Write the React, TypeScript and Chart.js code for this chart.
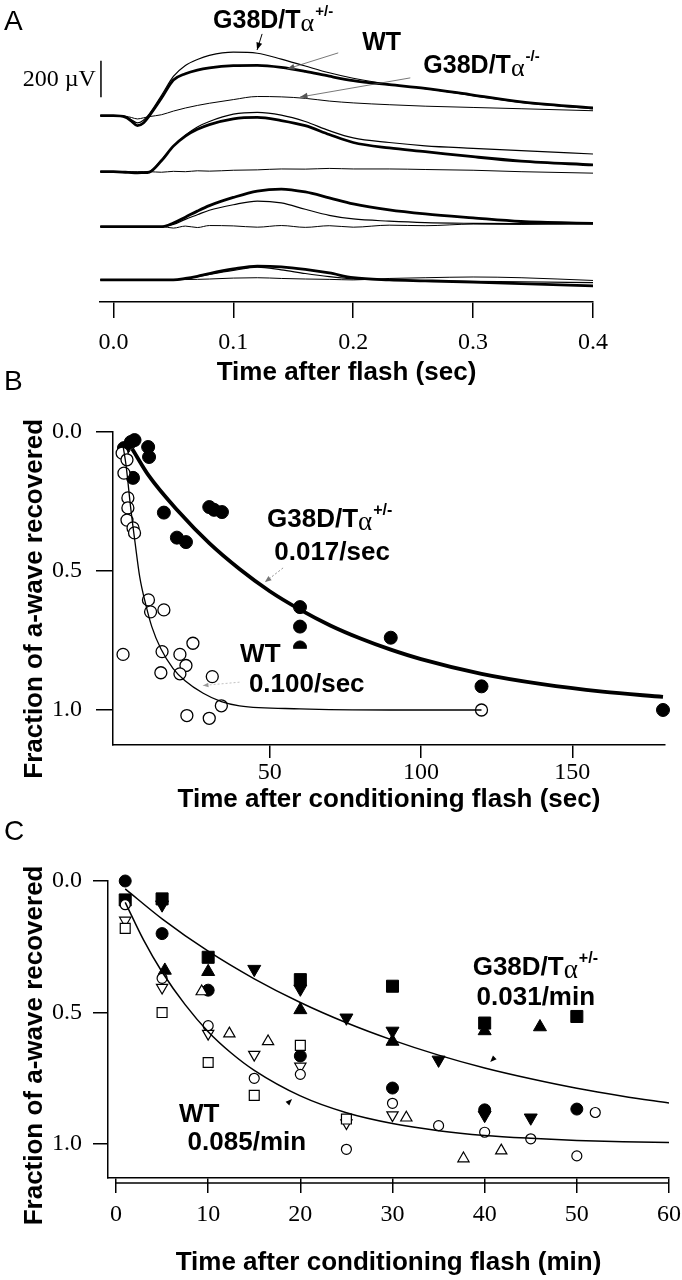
import React, { useEffect, useRef } from 'react';
import { Chart, registerables } from 'chart.js';

Chart.register(...registerables);

const SANS = '"Liberation Sans", Arial, Helvetica, sans-serif';
const SERIF = '"Liberation Serif", "Times New Roman", serif';
const INK = '#000';

// ---------------- Panel A : ERG traces (µV, relative to each trace's baseline) ----------------
const traceTimes = [-0.011, 0, 0.01, 0.015, 0.02, 0.025, 0.03, 0.04, 0.05, 0.06, 0.07, 0.08, 0.1, 0.12, 0.14, 0.16, 0.18, 0.2, 0.23, 0.26, 0.3, 0.34, 0.4];
const traceBaselines = [0, -307, -608, -900];
const wtTraces = [
  [0, 0, -8, -30, -55, -40, 0, 95, 195, 230, 250, 262, 274, 276, 265, 243, 216, 192, 170, 150, 113, 76, 42],
  [0, 0, -3, -5, -6, -5, -2, 60, 140, 195, 232, 258, 290, 298, 280, 252, 204, 160, 130, 110, 82, 58, 37],
  [0, 0, 0, 0, 0, 0, 0, 0, 20, 52, 85, 115, 160, 195, 206, 190, 158, 125, 92, 70, 48, 28, 18],
  [0, 0, 0, 0, 0, 0, 0, 0, 0, 8, 20, 35, 60, 76, 72, 58, 38, 12, 0, -5, -12, -20, -33],
];
const hetTraces = [
  [0, 0, -5, -22, -40, -25, 10, 110, 215, 275, 308, 330, 348, 342, 310, 272, 235, 205, 172, 148, 110, 72, 38],
  [0, 0, -2, -4, -5, -4, 0, 65, 140, 200, 245, 275, 315, 325, 310, 275, 225, 185, 160, 142, 128, 115, 97],
  [0, 0, 0, 0, 0, 0, 0, 0, 12, 40, 65, 90, 120, 140, 130, 95, 62, 42, 30, 22, 18, 16, 15],
  [0, 0, 0, 0, 0, 0, 0, 0, 0, 6, 18, 30, 52, 70, 55, 35, 18, 5, 0, -4, -8, -10, -15],
];
const koTraces = [
  [0, 0, -3, -10, -18, -12, -5, 5, 25, 42, 56, 68, 88, 105, 103, 95, 80, 70, 60, 52, 45, 38, 27],
  [0, 0, 0, 0, 0, 0, 0, -3, 2, 0, 5, 3, 8, 10, 15, 14, 18, 15, 15, 12, 8, 0, -8],
  [0, 0, 0, 0, 0, 0, 0, 0, -8, 3, -5, 6, 4, -3, 6, -4, 5, -3, 8, 5, 14, 12, 18],
  [0, 0, 0, 0, 0, 0, 0, 0, 0, 2, 3, 5, 10, 12, 8, 5, 3, 0, 8, 12, 16, 12, -3],
];
const aXTicks = [0, 0.1, 0.2, 0.3, 0.4];
const scaleBarMicroV = 200;
const scaleBarStart = 101;
const scaleBarTime = -0.0104;

// ---------------- Panel B : recovery (sec) ----------------
const bHetPoints: [number, number][] = [
  [1.8, 0.058], [4.1, 0.036], [5.3, 0.029], [9.8, 0.054], [10.1, 0.09], [4.8, 0.165],
  [15, 0.29], [30, 0.27], [31.6, 0.28], [34.2, 0.288], [19.3, 0.38], [22.3, 0.396],
  [60, 0.63], [60, 0.7], [60, 0.775], [90, 0.74], [120, 0.915], [180, 1.0],
];
const bWtPoints: [number, number][] = [
  [1.2, 0.076], [2.8, 0.1], [1.8, 0.148], [3.1, 0.237], [3.1, 0.273], [2.8, 0.317], [4.8, 0.345], [5.3, 0.363],
  [9.9, 0.604], [10.6, 0.647], [15, 0.64], [1.5, 0.8], [14.4, 0.79], [14, 0.866], [20.3, 0.8], [22.3, 0.84],
  [24.6, 0.76], [20.3, 0.87], [31, 0.88], [22.6, 1.02], [30, 1.03], [34, 0.985], [120, 1.0],
];
const bHetFit: [number, number][] = [
  [4.5, 0.06], [10, 0.157], [20, 0.288], [30, 0.4], [40, 0.493], [50, 0.573], [60, 0.639], [70, 0.696],
  [80, 0.743], [90, 0.783], [100, 0.817], [120, 0.87], [140, 0.907], [160, 0.934], [180, 0.953],
];
const bWtFit: [number, number][] = [
  [1.5, 0.05], [2.5, 0.12], [4, 0.27], [5.5, 0.4], [7, 0.52], [9, 0.62], [11, 0.7], [14, 0.78], [18, 0.85],
  [22, 0.895], [28, 0.94], [34, 0.97], [40, 0.985], [60, 0.996], [90, 1.0], [120, 1.0],
];
const bXTicks = [50, 100, 150];
const bYTicks = [0, 0.5, 1.0];

// ---------------- Panel C : recovery (min) ----------------
const cHetCircles: [number, number][] = [[1, 0.0], [5, 0.2], [10, 0.415], [20, 0.665], [30, 0.787], [40, 0.87], [50, 0.867]];
const cHetSquares: [number, number][] = [[1, 0.072], [5, 0.068], [10, 0.29], [20, 0.375], [30, 0.4], [40, 0.54], [50, 0.515]];
const cHetUp: [number, number][] = [[5.3, 0.34], [10, 0.345], [20, 0.49], [30, 0.61], [40, 0.57], [46, 0.555]];
const cHetDown: [number, number][] = [[5, 0.09], [15, 0.335], [20, 0.41], [25, 0.52], [30, 0.57], [35, 0.68], [40, 0.89], [45, 0.9]];
const cWtCircles: [number, number][] = [[1, 0.09], [5, 0.37], [10, 0.55], [15, 0.75], [20, 0.735], [25, 1.02], [30, 0.845], [35, 0.93], [40, 0.955], [45, 0.98], [50, 1.045], [52, 0.88]];
const cWtSquares: [number, number][] = [[1, 0.18], [5, 0.5], [10, 0.69], [15, 0.815], [20, 0.625], [25, 0.905]];
const cWtUp: [number, number][] = [[9.3, 0.42], [12.3, 0.58], [16.5, 0.61], [31.5, 0.9], [37.7, 1.055], [41.8, 1.025]];
const cWtDown: [number, number][] = [[1, 0.15], [5, 0.405], [10, 0.58], [15, 0.66], [20, 0.705], [25, 0.92], [30, 0.89]];
const cHetFit: [number, number][] = [[1, 0.03], [5, 0.144], [10, 0.267], [15, 0.372], [20, 0.462], [25, 0.539], [30, 0.605], [35, 0.662], [40, 0.711], [45, 0.752], [50, 0.788], [55, 0.818], [60, 0.844]];
const cWtFit: [number, number][] = [[1, 0.081], [3, 0.225], [5, 0.346], [7.5, 0.47], [10, 0.573], [12.5, 0.654], [15, 0.72], [20, 0.817], [25, 0.881], [30, 0.922], [35, 0.949], [40, 0.967], [45, 0.978], [50, 0.986], [55, 0.991], [60, 0.994]];
const cXTicks = [0, 10, 20, 30, 40, 50, 60];
const cYTicks = [0, 0.5, 1.0];

const yTitleText = 'Fraction of a-wave recovered';

// ---------------- helpers ----------------
const toXY = (pts: [number, number][]) => pts.map(([x, y]) => ({ x, y }));

function curve(pts: { x: number; y: number }[], width: number) {
  return {
    data: pts,
    showLine: true,
    pointRadius: 0,
    borderColor: INK,
    borderWidth: width,
    cubicInterpolationMode: 'monotone',
    fill: false,
  };
}

function markers(pts: [number, number][], style: string, r: number, filled: boolean, rotation = 0, bw = 1.2) {
  return {
    data: toXY(pts),
    showLine: false,
    pointStyle: style,
    pointRadius: r,
    pointRotation: rotation,
    pointBackgroundColor: filled ? INK : '#fff',
    pointBorderColor: INK,
    pointBorderWidth: bw,
    clip: false,
  };
}

function fixSize(w?: number, h?: number) {
  return (s: any) => {
    if (w !== undefined) s.width = w;
    if (h !== undefined) s.height = h;
    s.paddingLeft = 0;
    s.paddingRight = 0;
    s.paddingTop = 0;
    s.paddingBottom = 0;
  };
}

function axisCommon(tickLen: number) {
  return {
    grid: { display: true, drawOnChartArea: false, drawTicks: true, tickLength: tickLen, color: INK, lineWidth: 1.5 },
    border: { display: true, color: INK, width: 1.5 },
  };
}

function xAxis(o: any) {
  return {
    type: 'linear',
    position: 'bottom',
    min: o.min,
    max: o.max,
    afterBuildTicks: (s: any) => { s.ticks = o.ticks.map((v: number) => ({ value: v })); },
    afterFit: fixSize(undefined, o.height),
    ...axisCommon(o.tickLen),
    ticks: { padding: o.pad, color: INK, font: { family: SERIF, size: 24 }, maxRotation: 0, autoSkip: false, callback: o.fmt },
    title: { display: true, text: o.title, color: INK, font: { family: SANS, size: 26, weight: 'bold' }, padding: { top: 0, bottom: o.titlePad } },
  };
}

function yFracAxis(o: any) {
  return {
    type: 'linear',
    position: 'left',
    reverse: true,
    min: 0,
    max: o.max,
    afterBuildTicks: (s: any) => { s.ticks = o.ticks.map((v: number) => ({ value: v })); },
    afterFit: fixSize(o.width, undefined),
    ...axisCommon(o.tickLen),
    ticks: { padding: o.pad, color: INK, font: { family: SERIF, size: 24 }, autoSkip: false, callback: (v: any) => Number(v).toFixed(1) },
    title: { display: false, text: yTitleText },
  };
}

function drawYTitle(ctx: CanvasRenderingContext2D, cx: number, cy: number) {
  ctx.save();
  ctx.translate(cx, cy);
  ctx.rotate(-Math.PI / 2);
  ctx.textAlign = 'center';
  ctx.textBaseline = 'middle';
  ctx.font = `bold 26px ${SANS}`;
  ctx.fillStyle = INK;
  ctx.fillText(yTitleText, 0, 0);
  ctx.restore();
}

function drawGeno(ctx: CanvasRenderingContext2D, x: number, y: number, sup: string, size: number) {
  ctx.textAlign = 'left';
  ctx.textBaseline = 'middle';
  ctx.font = `bold ${size}px ${SANS}`;
  ctx.fillText('G38D/T', x, y);
  let w = ctx.measureText('G38D/T').width;
  ctx.font = `${Math.round(size * 1.05)}px ${SERIF}`;
  ctx.fillText('α', x + w, y + size * 0.12);
  w += ctx.measureText('α').width + 1;
  ctx.font = `bold ${Math.round(size * 0.6)}px ${SANS}`;
  ctx.fillText(sup, x + w, y - size * 0.38);
}

function head(ctx: CanvasRenderingContext2D, x: number, y: number, ang: number, size: number) {
  ctx.beginPath();
  ctx.moveTo(x, y);
  ctx.lineTo(x - size * Math.cos(ang - 0.38), y - size * Math.sin(ang - 0.38));
  ctx.lineTo(x - size * Math.cos(ang + 0.38), y - size * Math.sin(ang + 0.38));
  ctx.closePath();
  ctx.fill();
}

function arrow(ctx: CanvasRenderingContext2D, x1: number, y1: number, x2: number, y2: number, color: string, width: number, size: number, dash: number[] = []) {
  ctx.save();
  ctx.strokeStyle = color;
  ctx.fillStyle = color;
  ctx.lineWidth = width;
  ctx.setLineDash(dash);
  ctx.beginPath();
  ctx.moveTo(x1, y1);
  ctx.lineTo(x2, y2);
  ctx.stroke();
  ctx.setLineDash([]);
  head(ctx, x2, y2, Math.atan2(y2 - y1, x2 - x1), size);
  ctx.restore();
}

function overlay(id: string, draw: (ctx: CanvasRenderingContext2D, X: (v: number) => number, Y: (v: number) => number, chart: any) => void) {
  return {
    id,
    afterDraw(chart: any) {
      const ctx = chart.ctx as CanvasRenderingContext2D;
      const X = (v: number) => chart.scales.x.getPixelForValue(v);
      const Y = (v: number) => chart.scales.y.getPixelForValue(v);
      ctx.save();
      ctx.fillStyle = INK;
      draw(ctx, X, Y, chart);
      ctx.restore();
    },
  };
}

const basePlugins = { legend: { display: false }, tooltip: { enabled: false } };

// ---------------- configs ----------------
function configA(): any {
  const datasets: any[] = [];
  traceBaselines.forEach((base, i) => {
    const mk = (rows: number[][]) => traceTimes.map((t, j) => ({ x: t, y: base + rows[i][j] }));
    datasets.push(curve(mk(koTraces), 1.0));
    datasets.push(curve(mk(hetTraces), 1.2));
    datasets.push(curve(mk(wtTraces), 2.8));
  });
  datasets.push({
    ...curve([{ x: scaleBarTime, y: scaleBarStart }, { x: scaleBarTime, y: scaleBarStart + scaleBarMicroV }], 1.5),
    cubicInterpolationMode: 'default',
    tension: 0,
    clip: false,
  });
  return {
    type: 'scatter',
    data: { datasets },
    options: {
      responsive: false,
      animation: false,
      events: [],
      layout: { padding: { left: 100, right: 89, top: 10, bottom: 0 } },
      plugins: basePlugins,
      scales: {
        x: xAxis({ min: -0.0112, max: 0.4, ticks: aXTicks, fmt: (v: any) => Number(v).toFixed(1), tickLen: 16, pad: 10, height: 93, title: 'Time after flash (sec)', titlePad: 7 }),
        y: { type: 'linear', display: false, min: -1021, max: 579 },
      },
    },
    plugins: [
      overlay('annA', (ctx, X, Y) => {
        ctx.textBaseline = 'middle';
        ctx.textAlign = 'left';
        ctx.font = `28px ${SANS}`;
        ctx.fillText('A', 4, 22);
        ctx.font = `24px ${SERIF}`;
        ctx.textAlign = 'right';
        ctx.fillText('200 µV', X(-0.0146), Y(196));
        drawGeno(ctx, X(0.0831), Y(519), '+/-', 25);
        ctx.font = `bold 25px ${SANS}`;
        ctx.textAlign = 'left';
        ctx.fillText('WT', X(0.2075), Y(398));
        drawGeno(ctx, X(0.2585), Y(272), '-/-', 25);
        arrow(ctx, X(0.124), Y(448), X(0.1198), Y(360), INK, 1, 8);
        arrow(ctx, X(0.1875), Y(344), X(0.1449), Y(256), '#555', 0.8, 8);
        arrow(ctx, X(0.2476), Y(207), X(0.1557), Y(102), '#555', 0.8, 8);
      }),
    ],
  };
}

function configB(): any {
  return {
    type: 'scatter',
    data: {
      datasets: [
        curve(toXY(bWtFit), 1.3),
        curve(toXY(bHetFit), 3.8),
        markers(bWtPoints, 'circle', 6, false, 0, 1.3),
        markers(bHetPoints, 'circle', 6.5, true, 0, 1),
      ],
    },
    options: {
      responsive: false,
      animation: false,
      events: [],
      layout: { padding: { left: 0, right: 17, top: 72, bottom: 0 } },
      plugins: basePlugins,
      scales: {
        x: xAxis({ min: -1.82, max: 180.66, ticks: bXTicks, fmt: (v: any) => String(v), tickLen: 13, pad: 0, height: 75, title: 'Time after conditioning flash (sec)', titlePad: 5 }),
        y: yFracAxis({ max: 1.126, ticks: bYTicks, width: 113, tickLen: 17, pad: 14 }),
      },
    },
    plugins: [
      overlay('annB', (ctx, X, Y) => {
        ctx.textBaseline = 'middle';
        ctx.textAlign = 'left';
        ctx.font = `28px ${SANS}`;
        ctx.fillText('B', 4, 22);
        drawYTitle(ctx, 35, Y(0.6));
        ctx.fillStyle = '#fff';
        ctx.fillRect(X(39.5), Y(0.78), X(81.8) - X(39.5), Y(0.964) - Y(0.78));
        ctx.fillStyle = INK;
        drawGeno(ctx, X(49.1), Y(0.317), '+/-', 26);
        ctx.font = `bold 26px ${SANS}`;
        ctx.textAlign = 'center';
        ctx.fillText('0.017/sec', X(70.6), Y(0.435));
        ctx.textAlign = 'left';
        ctx.fillText('WT', X(40.2), Y(0.802));
        ctx.fillText('0.100/sec', X(43.1), Y(0.91));
        arrow(ctx, X(54.4), Y(0.489), X(48.4), Y(0.54), '#777', 0.8, 7, [2, 2]);
        arrow(ctx, X(40), Y(0.9), X(27.9), Y(0.912), '#999', 0.6, 6, [2, 2]);
      }),
    ],
  };
}

function configC(): any {
  return {
    type: 'scatter',
    data: {
      datasets: [
        curve(toXY(cWtFit), 1.5),
        curve(toXY(cHetFit), 1.5),
        markers(cWtCircles, 'circle', 5, false),
        markers(cWtSquares, 'rect', 7, false),
        markers(cWtUp, 'triangle', 6.5, false),
        markers(cWtDown, 'triangle', 6.5, false, 180),
        markers([...cWtCircles, ...cWtSquares], 'circle', 0.9, true, 0, 0),
        markers(cHetCircles, 'circle', 6, true, 0, 1),
        markers(cHetSquares, 'rect', 8.5, true, 0, 1),
        markers(cHetUp, 'triangle', 7.5, true, 0, 1),
        markers(cHetDown, 'triangle', 7.5, true, 180, 1),
      ],
    },
    options: {
      responsive: false,
      animation: false,
      events: [],
      layout: { padding: { left: 0, right: 13, top: 71, bottom: 0 } },
      plugins: basePlugins,
      scales: {
        x: xAxis({ min: -0.868, max: 60, ticks: cXTicks, fmt: (v: any) => String(v), tickLen: 15, pad: 7.6, height: 102, title: 'Time after conditioning flash (min)', titlePad: 1.4 }),
        y: yFracAxis({ max: 1.129, ticks: cYTicks, width: 108, tickLen: 15, pad: 11 }),
      },
    },
    plugins: [
      overlay('annC', (ctx, X, Y, chart) => {
        ctx.textBaseline = 'middle';
        ctx.textAlign = 'left';
        ctx.font = `28px ${SANS}`;
        ctx.fillText('C', 4, 22);
        drawYTitle(ctx, 35, Y(0.625));
        const yb = chart.chartArea.bottom + 5;
        ctx.strokeStyle = INK;
        ctx.lineWidth = 1.5;
        ctx.beginPath();
        ctx.moveTo(X(cXTicks[0]), yb);
        ctx.lineTo(X(cXTicks[cXTicks.length - 1]), yb);
        ctx.stroke();
        drawGeno(ctx, X(38.7), Y(0.331), '+/-', 26);
        ctx.font = `bold 26px ${SANS}`;
        ctx.textAlign = 'center';
        ctx.fillText('0.031/min', X(45.55), Y(0.445));
        ctx.textAlign = 'left';
        ctx.fillText('WT', X(6.83), Y(0.89));
        ctx.textAlign = 'center';
        ctx.fillText('0.085/min', X(14.2), Y(0.996));
        head(ctx, X(40.6), Y(0.688), Math.atan2(1, -1), 7);
        head(ctx, X(19.1), Y(0.829), Math.atan2(-1, 1), 7);
      }),
    ],
  };
}

export default function App() {
  const refA = useRef<HTMLCanvasElement>(null);
  const refB = useRef<HTMLCanvasElement>(null);
  const refC = useRef<HTMLCanvasElement>(null);

  useEffect(() => {
    document.body.style.margin = '0';
    document.body.style.background = '#fff';
    const charts = [
      new Chart(refA.current as HTMLCanvasElement, configA()),
      new Chart(refB.current as HTMLCanvasElement, configB()),
      new Chart(refC.current as HTMLCanvasElement, configC()),
    ];
    return () => charts.forEach((c) => c.destroy());
  }, []);

  const cs = (top: number, h: number): React.CSSProperties => ({ position: 'absolute', left: 0, top, width: 682, height: h });

  return (
    <div style={{ position: 'relative', width: 682, height: 1280, background: '#fff', overflow: 'hidden' }}>
      <canvas ref={refA} width={682} height={395} style={cs(0, 395)} />
      <canvas ref={refB} width={682} height={460} style={cs(360, 460)} />
      <canvas ref={refC} width={682} height={470} style={cs(810, 470)} />
    </div>
  );
}
